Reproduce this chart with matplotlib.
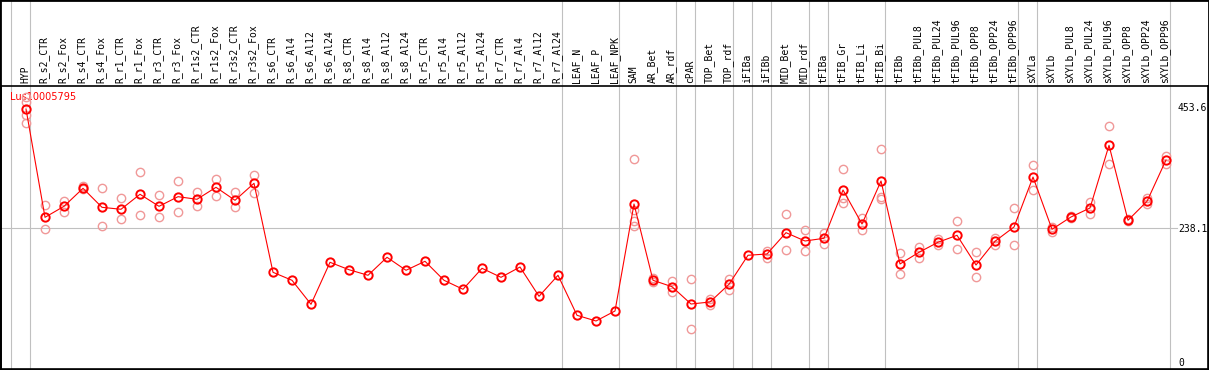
import numpy as np
import matplotlib
matplotlib.use("Agg")
import matplotlib.pyplot as plt
from matplotlib.transforms import blended_transform_factory
from matplotlib.patches import Rectangle

##WWww=--  data section: --=wwWW##
samples = [
    "HYP", "R_s2_CTR", "R_s2_Fox", "R_s4_CTR", "R_s4_Fox", "R_r1_CTR", "R_r1_Fox",
    "R_r3_CTR", "R_r3_Fox", "R_r1s2_CTR", "R_r1s2_Fox", "R_r3s2_CTR", "R_r3s2_Fox",
    "R_s6_CTR", "R_s6_Al4", "R_s6_Al12", "R_s6_Al24", "R_s8_CTR", "R_s8_Al4",
    "R_s8_Al12", "R_s8_Al24", "R_r5_CTR", "R_r5_Al4", "R_r5_Al12", "R_r5_Al24",
    "R_r7_CTR", "R_r7_Al4", "R_r7_Al12", "R_r7_Al24", "LEAF_N", "LEAF_P", "LEAF_NPK",
    "SAM", "AR_Bet", "AR_rdf", "cPAR", "TOP_Bet", "TOP_rdf", "iFIBa", "iFIBb",
    "MID_Bet", "MID_rdf", "tFIBa", "tFIB_Gr", "tFIB_Li", "tFIB_Bi", "tFIBb",
    "tFIBb_PUL8", "tFIBb_PUL24", "tFIBb_PUL96", "tFIBb_OPP8", "tFIBb_OPP24",
    "tFIBb_OPP96", "sXYLa", "sXYLb", "sXYLb_PUL8", "sXYLb_PUL24", "sXYLb_PUL96",
    "sXYLb_OPP8", "sXYLb_OPP24", "sXYLb_OPP96",
]

# mean expression per sample
means = [
    449.5, 256.8, 276.4, 308.4, 274.6, 271.1, 297.8, 276.4, 293.5, 288.9, 310.2,
    287.1, 317.3, 159.0, 144.8, 102.1, 176.8, 163.6, 153.7, 185.7, 162.6, 178.6,
    144.8, 128.8, 166.1, 150.1, 168.4, 116.3, 153.7, 82.5, 72.4, 90.2,
    280.5, 144.8, 133.4, 102.6, 106.2, 137.7, 189.3, 191.6,
    229.5, 214.7, 219.5, 305.4, 244.9, 321.4, 173.8,
    194.6, 212.4, 224.8, 172.0, 214.2, 239.6,
    328.5, 235.5, 257.4, 273.4, 384.9, 251.5, 285.3, 358.8,
]

# individual replicates (empty where only the mean is shown)
replicates = [
    [470.8, 461.9, 438.8, 424.6], [278.2, 235.5], [286.4, 266.8], [313.1, 307.2],
    [308.4, 240.8], [290.6, 253.3], [336.9, 260.4], [296.0, 256.8], [320.9, 265.7],
    [301.3, 276.4], [324.4, 294.7], [301.3, 274.6], [331.6, 300.6],
    [], [], [], [], [], [], [], [], [], [], [], [], [], [], [], [], [], [], [],
    [360.0, 269.8, 250.3, 241.4], [149.4, 142.3], [143.5, 124.0], [146.6, 57.6],
    [111.0, 100.9], [147.6, 127.5], [], [196.4, 185.0],
    [262.2, 198.1], [234.3, 196.4], [228.4, 208.8], [342.2, 291.2, 281.7],
    [255.1, 234.3], [377.8, 293.5, 289.9], [193.3, 155.5],
    [204.6, 185.0], [217.7, 207.6], [250.3, 199.9], [194.6, 150.1], [220.6, 207.0],
    [272.9, 207.0],
    [349.3, 305.4], [240.1, 231.2], [259.0, 255.5], [284.1, 262.7], [419.2, 351.1],
    [253.0, 250.0], [290.6, 281.0], [366.4, 351.6],
]

# samples after which a group separator is drawn
separators = [-1, 0, 28, 31, 34, 35, 37, 38, 39, 41, 42, 45, 52, 53, 60]

y_ticks  = [453.6, 238.1, 0]
gene     = "Lus10005795"

##WWww=--  figure: --=wwWW##
W, H = 1209, 370
fig = plt.figure(figsize=(W/100., H/100.), dpi=100)

# axes: left 1px, right 1208px, top 86px, bottom 369px
ax = fig.add_axes([1./W, 1./H, 1207./W, 283./H])

x = np.arange(len(samples))
ax.set_xlim(-1.316, 62.21)
ax.set_ylim(-13.0, 490.4)

mono = "DejaVu Sans Mono"
grey = "#c0c0c0"

# group separators, running through the label band as well
for s in separators:
    ax.axvline(s + 0.22, ymin=0, ymax=1 + 86./283, color=grey, lw=0.8,
               clip_on=False, zorder=0)
ax.axhline(238.1, xmin=0, xmax=1176./1207, color=grey, lw=0.8, zorder=0)

# replicates
rx = [i for i, r in enumerate(replicates) for _ in r]
ry = [v for r in replicates for v in r]
ax.plot(rx, ry, ls="none", marker="o", ms=6, mfc="none", mec="#f09898",
        mew=1.0, zorder=2)

# means
ax.plot(x, means, color="red", lw=0.8, marker="o", ms=6, mfc="none",
        mec="red", mew=1.4, zorder=3)

# sample labels above the plot
trans = blended_transform_factory(ax.transData, ax.transAxes)
for i, s in enumerate(samples):
    ax.text(i - 0.05, 1 + 3./283, s, transform=trans, rotation=90,
            ha="center", va="bottom", family=mono, fontsize=7)

ax.text(9./1207, 1 - 11./283, gene, transform=ax.transAxes, color="red",
        fontsize=7, va="center", ha="left", zorder=1)

ax.set_xticks([])
ax.yaxis.tick_right()
ax.set_yticks(y_ticks)
ax.set_yticklabels(["%g" % v for v in y_ticks], family=mono)
ax.tick_params(axis="y", length=0, pad=-21.6, labelsize=7)

for sp in ax.spines.values():
    sp.set_linewidth(1.2)

fig.patches.append(Rectangle((0, 0), 1, 1, transform=fig.transFigure,
                             fill=False, edgecolor="black", lw=2))

fig.savefig("out.png", dpi=100)
